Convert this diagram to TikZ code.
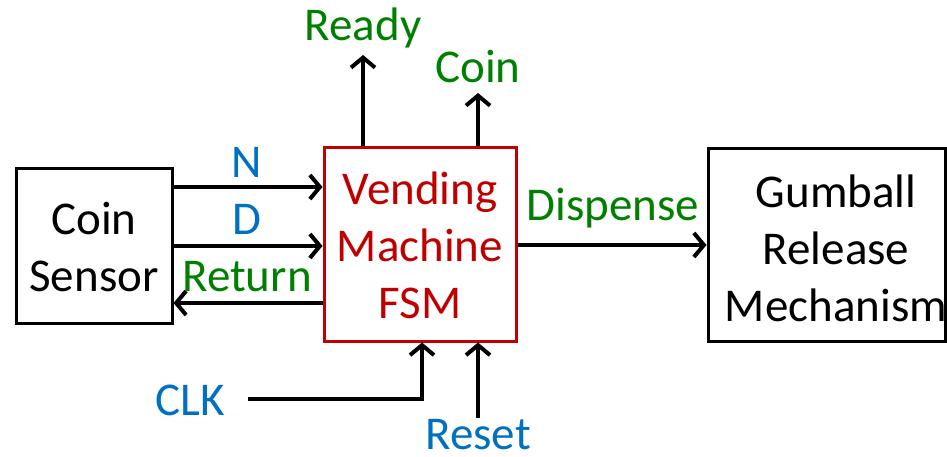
\documentclass[tikz,border=0pt]{standalone}
\usepackage{fontspec}
\setmainfont{Carlito}
\usetikzlibrary{arrows.meta}
\definecolor{fsmred}{HTML}{C00000}
\definecolor{sigblue}{HTML}{0070C0}
\definecolor{siggreen}{HTML}{008000}
\begin{document}
\begin{tikzpicture}[x=1pt,y=-1pt,
  box/.style={draw, line width=3pt, inner sep=0pt, align=center},
  txt/.style={font=\fontsize{47}{57}\selectfont, align=center, inner sep=0pt},
  lbl/.style={font=\fontsize{47}{57}\selectfont, inner sep=0pt},
  arr/.style={line width=4pt, -{Straight Barb[length=10pt,width=24pt]}},
  wire/.style={line width=4pt}]
\useasboundingbox (0,0) rectangle (947,457);
% boxes
\node[box, minimum width=156pt, minimum height=154pt] (cs) at (94,246) {};
\node[txt] (cstext) at (94,247) {Coin\\Sensor};
\node[box, draw=fsmred, minimum width=192pt, minimum height=193pt] (fsm) at (420,244.5) {};
\node[txt, text=fsmred] (fsmtext) at (420,245) {Vending\\Machine\\FSM};
\node[box, minimum width=237pt, minimum height=192pt] (gb) at (826.5,245) {};
\node[txt] (gbtext) at (836,248) {Gumball\\Release\\Mechanism};
% signal coordinates
\coordinate (ny) at (0,187);
\coordinate (dy) at (0,246);
\coordinate (ry) at (0,303);
\coordinate (dispy) at (0,245);
\coordinate (readyx) at (363,0);
\coordinate (coinx) at (478,0);
\coordinate (clkx) at (422,0);
\coordinate (resetx) at (478,0);
\coordinate (clkstart) at (248,399);
\coordinate (resetstart) at (478,418);
\coordinate (readyend) at (363,55);
\coordinate (coinend) at (478,93);
% connectors
\draw[arr] (cs.east |- ny) -- (fsm.west |- ny);
\draw[arr] (cs.east |- dy) -- (fsm.west |- dy);
\draw[arr] (fsm.west |- ry) -- (cs.east |- ry);
\draw[arr] (fsm.east |- dispy) -- (gb.west |- dispy);
\draw[arr] (fsm.north -| readyx) -- (readyend);
\draw[arr] (fsm.north -| coinx) -- (coinend);
\draw[arr, line join=miter] (clkstart) -| (fsm.south -| clkx);
\draw[arr] (resetstart) -- (fsm.south -| resetx);
% labels
\node[lbl, text=sigblue] (nlbl) at (247,162) {N};
\node[lbl, text=sigblue] (dlbl) at (247,219) {D};
\node[lbl, text=siggreen] (retlbl) at (247,277) {Return};
\node[lbl, text=siggreen] (displbl) at (613,208) {Dispense};
\node[lbl, text=siggreen] (readylbl) at (363,28) {Ready};
\node[lbl, text=siggreen] (coinlbl) at (478,66) {Coin};
\node[lbl, text=sigblue] (clklbl) at (190,400) {CLK};
\node[lbl, text=sigblue] (resetlbl) at (478,435) {Reset};
\end{tikzpicture}
\end{document}
